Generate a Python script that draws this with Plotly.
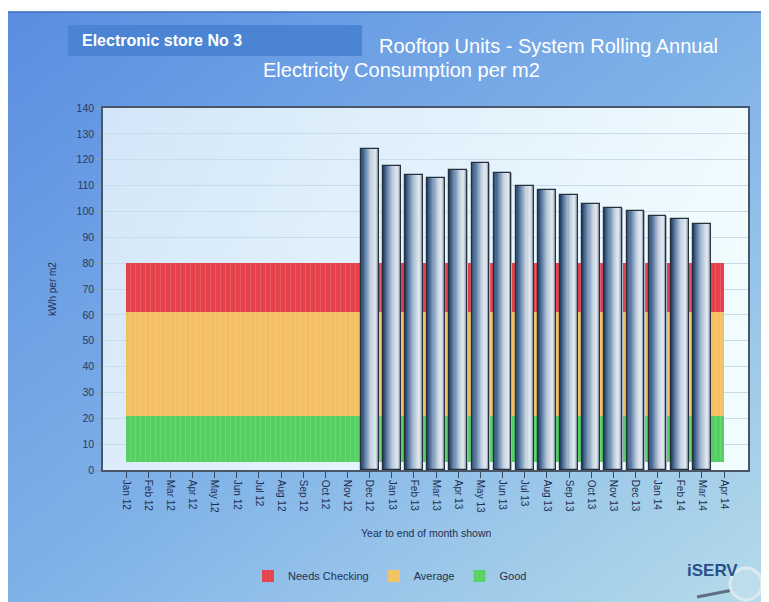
import base64
import plotly.graph_objects as go

# ---------------- data ----------------
months = ["Jan 12", "Feb 12", "Mar 12", "Apr 12", "May 12", "Jun 12", "Jul 12", "Aug 12",
          "Sep 12", "Oct 12", "Nov 12", "Dec 12", "Jan 13", "Feb 13", "Mar 13", "Apr 13",
          "May 13", "Jun 13", "Jul 13", "Aug 13", "Sep 13", "Oct 13", "Nov 13", "Dec 13",
          "Jan 14", "Feb 14", "Mar 14", "Apr 14"]
bar_months = ["Dec 12", "Jan 13", "Feb 13", "Mar 13", "Apr 13", "May 13", "Jun 13", "Jul 13",
              "Aug 13", "Sep 13", "Oct 13", "Nov 13", "Dec 13", "Jan 14", "Feb 14", "Mar 14"]
consumption = [124, 117.5, 114, 113, 116, 118.7, 115, 110, 108.2, 106.3, 102.8, 101.3,
               100.2, 98.1, 97, 95.3]
band_names = ["Needs Checking", "Average", "Good"]
band_lower = [61, 21, 3]
band_upper = [80, 61, 21]
y_ticks = list(range(0, 141, 10))

# ---------------- layout geometry (pixels of the target picture) ----------------
W_IMG, H_IMG = 769, 602
OFF = 8  # page body margin
L, R, T, B = 103, 748, 108, 470
PW, PH = R - L, B - T
FIG_W, FIG_H = W_IMG - OFF, H_IMG - OFF


def px(x):
    return (x - L) / PW


def py(y):
    return (B - y) / PH


def svg_grad(stops, x2, y2):
    s = "".join(f'<stop offset="{o}" stop-color="{c}"/>' for o, c in stops)
    svg = ('<svg xmlns="http://www.w3.org/2000/svg" width="100" height="100" '
           'viewBox="0 0 100 100" preserveAspectRatio="none"><defs>'
           f'<linearGradient id="g" x1="0" y1="0" x2="{x2}" y2="{y2}">{s}</linearGradient>'
           '</defs><rect x="0" y="0" width="100" height="100" fill="url(#g)"/></svg>')
    return "data:image/svg+xml;base64," + base64.b64encode(svg.encode()).decode()


def hex2rgb(h):
    h = h.lstrip("#")
    return [int(h[i:i + 2], 16) for i in (0, 2, 4)]


def interp(stops, t):
    for (o1, c1), (o2, c2) in zip(stops[:-1], stops[1:]):
        if o1 <= t <= o2:
            f = (t - o1) / (o2 - o1) if o2 > o1 else 0
            a, b = hex2rgb(c1), hex2rgb(c2)
            return "rgb(%d,%d,%d)" % tuple(round(a[i] + (b[i] - a[i]) * f) for i in range(3))
    return stops[-1][1]


idx = {m: i for i, m in enumerate(months)}
bar_x = [idx[m] for m in bar_months]
seg_x = list(range(len(months) - 1))

band_colors = ["#e5414b", "#f3bf62", "#55d062"]

fig = go.Figure()

# bands (drawn as contiguous segments between month ticks)
for name, lo, hi, col in zip(band_names, band_lower, band_upper, band_colors):
    fig.add_trace(go.Bar(
        x=seg_x, y=[hi - lo] * len(seg_x), base=[lo] * len(seg_x),
        width=1, offset=0, name=name,
        marker=dict(color=col, line=dict(width=0),
                    pattern=dict(shape="|", size=5, solidity=0.15,
                                 fgcolor="rgba(255,255,255,0.35)", fillmode="overlay")),
        showlegend=True, hoverinfo="skip"))

# bars with a cylinder-like horizontal gradient
bar_w = 0.8
n_sl = 16
grad = [(0.0, "#1f3758"), (0.12, "#3d5d86"), (0.35, "#7b97b8"), (0.6, "#c4d1df"),
        (0.82, "#e4eaf1"), (1.0, "#9aa9bc")]
for i in range(n_sl):
    t = (i + 0.5) / n_sl
    fig.add_trace(go.Bar(
        x=bar_x, y=consumption, width=bar_w / n_sl * 1.05,
        offset=-bar_w / 2 + i * bar_w / n_sl,
        marker=dict(color=interp(grad, t), line=dict(width=0)),
        showlegend=False, hoverinfo="skip"))
fig.add_trace(go.Bar(
    x=bar_x, y=consumption, width=bar_w, offset=-bar_w / 2,
    marker=dict(color="rgba(0,0,0,0)", line=dict(color="#26313f", width=1.2)),
    showlegend=False, name="kWh per m2"))

font_main = "Liberation Sans, Arial, sans-serif"
navy = "#1f3052"

fig.update_layout(
    width=FIG_W, height=FIG_H,
    margin=dict(l=L - OFF, r=W_IMG - R, t=T - OFF, b=H_IMG - B, pad=0),
    paper_bgcolor="white", plot_bgcolor="rgba(0,0,0,0)",
    barmode="overlay", bargap=0,
    font=dict(family=font_main, color=navy),
    xaxis=dict(
        range=[-1.04, 28.08], tickmode="array", tickvals=list(range(len(months))),
        ticktext=months, tickangle=90, ticks="outside", ticklen=6, tickcolor="#3a4a60",
        tickfont=dict(size=10, color=navy), showgrid=False, zeroline=False,
        showline=True, linecolor="#4a5668", linewidth=1.5, mirror=True),
    yaxis=dict(
        range=[0, 140], tickvals=y_ticks, ticks="outside", ticklen=5, tickcolor="#8aa0b8",
        tickfont=dict(size=10.5, color="#2a3a62"), showgrid=True, gridcolor="#c9dcea",
        gridwidth=1, zeroline=False, showline=True, linecolor="#4a5668", linewidth=1.5,
        mirror=True),
    legend=dict(orientation="h", x=px(390), xanchor="center", y=py(576), yanchor="middle",
                font=dict(size=11, color=navy), bgcolor="rgba(0,0,0,0)",
                itemwidth=30, traceorder="normal"),
    showlegend=True,
)

# background images
fig.add_layout_image(dict(
    source=svg_grad([(0, "#5a8de0"), (0.5, "#7fb1e8"), (1, "#b5dcea")], 1, 1),
    xref="paper", yref="paper", x=px(6), y=py(12), sizex=(W_IMG - 6) / PW,
    sizey=(H_IMG - 12) / PH, xanchor="left", yanchor="top", sizing="stretch",
    layer="below"))
fig.add_layout_image(dict(
    source=svg_grad([(0, "#d3e6f8"), (1, "#f1fcff")], 1, 0.3),
    xref="paper", yref="paper", x=0, y=1, sizex=1, sizey=1,
    xanchor="left", yanchor="top", sizing="stretch", layer="below"))

# panel border and title box
fig.add_shape(type="rect", xref="paper", yref="paper", x0=px(6), x1=px(W_IMG + 2),
              y0=py(H_IMG + 2), y1=py(12), line=dict(color="#3c6fbd", width=1.5),
              fillcolor="rgba(0,0,0,0)", layer="below")
fig.add_shape(type="rect", xref="paper", yref="paper", x0=px(68), x1=px(362),
              y0=py(56), y1=py(25), line=dict(width=0), fillcolor="#4b84d2", layer="below")

# logo magnifier
fig.add_shape(type="line", xref="paper", yref="paper", x0=px(697), y0=py(597),
              x1=px(733), y1=py(590), line=dict(color="#5f6f80", width=3))
fig.add_shape(type="circle", xref="paper", yref="paper", x0=px(730), x1=px(762),
              y0=py(600), y1=py(568), line=dict(color="#dfe9f0", width=3),
              fillcolor="rgba(200,225,240,0.5)")

anns = [
    dict(text="<b>Electronic store No 3</b>", x=px(80), y=py(40), xanchor="left",
         yanchor="middle", font=dict(size=16, color="white")),
    dict(text="Rooftop Units - System Rolling Annual", x=px(548), y=py(46),
         xanchor="center", yanchor="middle", font=dict(size=20, color="white")),
    dict(text="Electricity Consumption per m2", x=px(401), y=py(70),
         xanchor="center", yanchor="middle", font=dict(size=20, color="white")),
    dict(text="kWh per m2", x=px(52), y=py(289), textangle=-90, xanchor="center",
         yanchor="middle", font=dict(size=10, color=navy)),
    dict(text="Year to end of month shown", x=px(426), y=py(533), xanchor="center",
         yanchor="middle", font=dict(size=10.5, color=navy)),
    dict(text="<b>iSERV</b>", x=px(712), y=py(570), xanchor="center", yanchor="middle",
         font=dict(size=17, color="#2b4f8a")),
]
for a in anns:
    fig.add_annotation(xref="paper", yref="paper", showarrow=False, **a)

fig.write_html("out.html")
